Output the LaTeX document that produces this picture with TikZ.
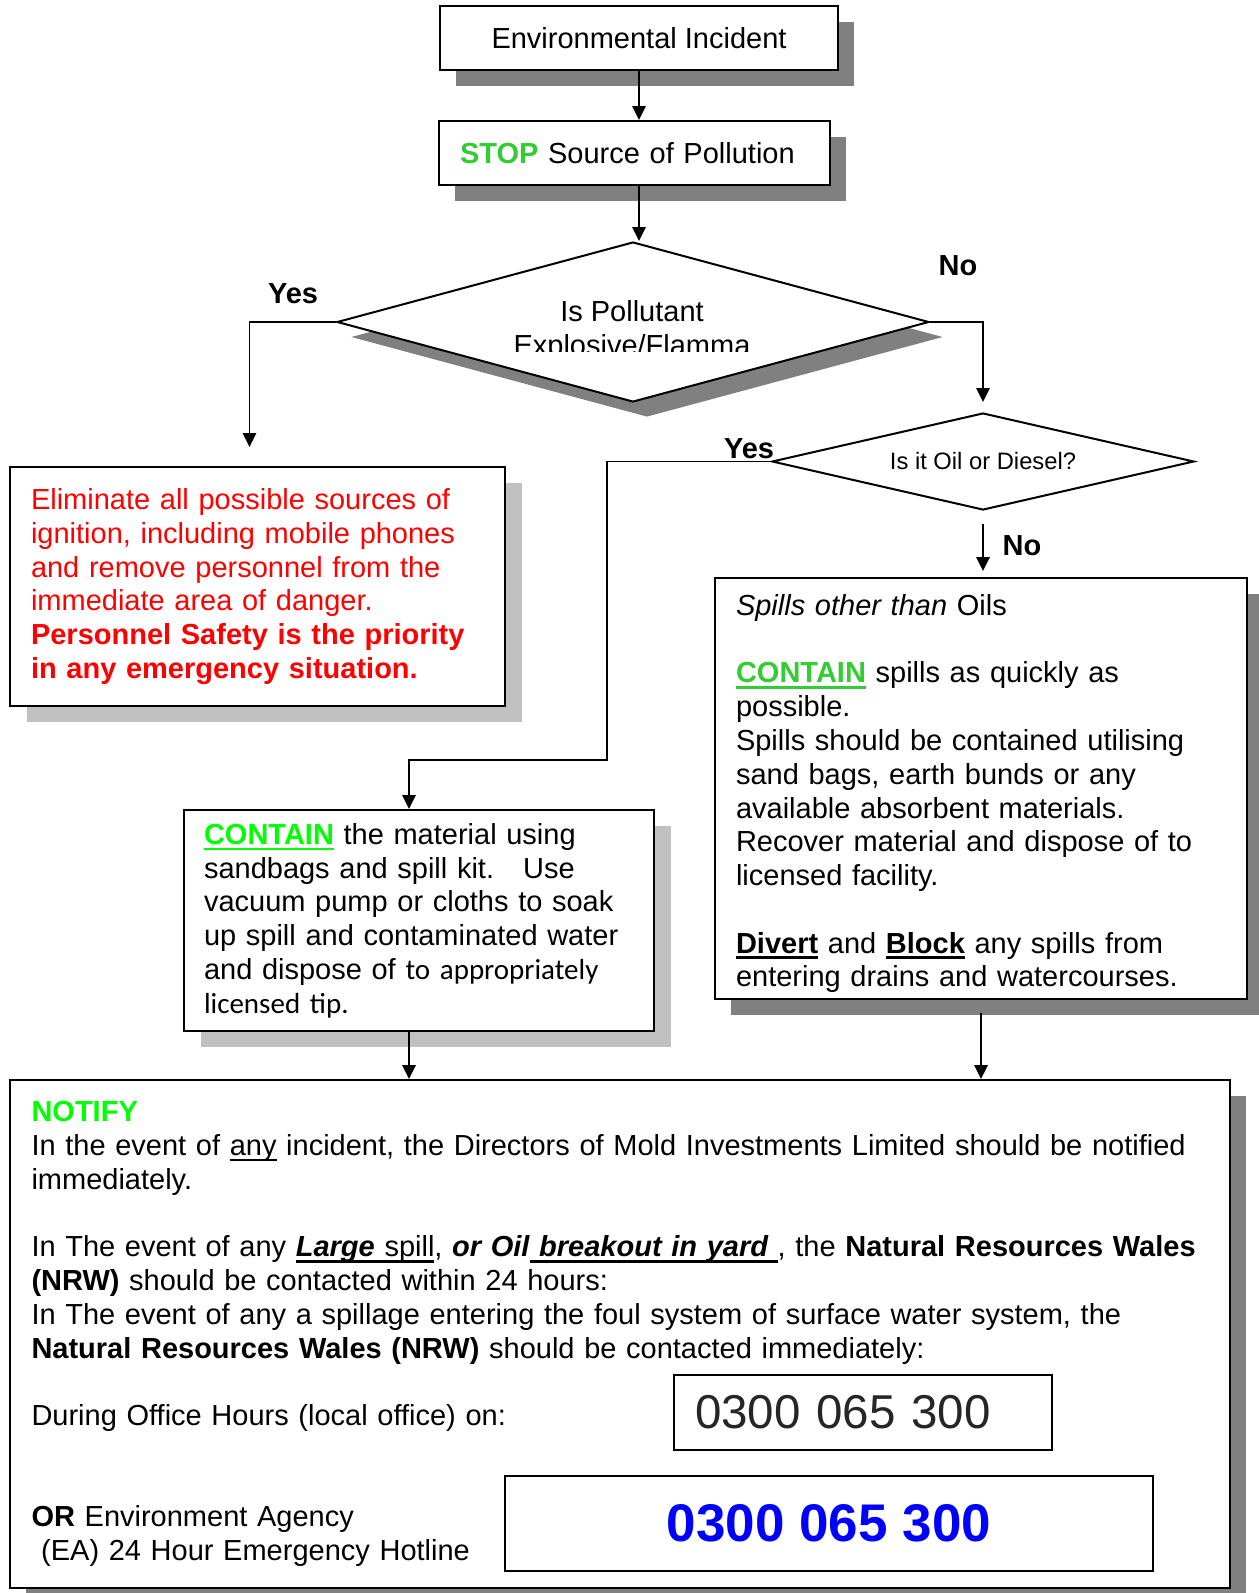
\documentclass[tikz,border=0pt]{standalone}
\usepackage{fontspec}
\setmainfont{Liberation Sans}
\newfontfamily\calibrifont{Carlito}
\usepackage{xcolor}
\usetikzlibrary{calc}
\usetikzlibrary{arrows.meta}
\usetikzlibrary{shapes.geometric}
\usetikzlibrary{shadows}

\definecolor{stopgreen}{RGB}{51,204,51}
\definecolor{limegreen}{RGB}{0,255,0}
\definecolor{alertred}{RGB}{255,0,0}
\definecolor{hotlineblue}{RGB}{0,0,255}
\definecolor{darkshade}{RGB}{128,128,128}
\definecolor{lightshade}{RGB}{192,192,192}
\definecolor{numbergrey}{RGB}{38,38,38}

\newcommand{\ulbar}[1]{\leavevmode\setbox0\hbox{#1}\rlap{\rule[-0.2em]{\wd0}{0.08em}}\box0\relax}

\begin{document}
\begin{tikzpicture}[x=0.4pt, y=-0.4pt]
\fontsize{11.6}{13.5}\selectfont

\tikzset{
    box/.style = {
    draw, thick, fill=white, inner sep=0pt
    },
    darkbox/.style = {
    box, general shadow={fill=darkshade, draw=none, shadow xshift=6.4pt, shadow yshift=-6.4pt}
    },
    lightbox/.style = {
    box, general shadow={fill=lightshade, draw=none, shadow xshift=6.8pt, shadow yshift=-6.4pt}
    }
}

\tikzstyle{textbox}=[anchor=north west, align=left, inner xsep=8.4pt, inner ysep=0pt]
\tikzstyle{answer}=[font=\bfseries]
\tikzstyle{arr}=[line width=0.7pt, -{Triangle[length=5.6pt, width=5.4pt]}]

\useasboundingbox (0,0) rectangle (1259,1593);

\node[darkbox, minimum width=159.2pt, minimum height=25.6pt, anchor=north west] (incident) at (439,5) {Environmental Incident};
\node[darkbox, align=left, text width=139.6pt, inner xsep=8.4pt, minimum height=25.6pt, anchor=north west] (stop) at (438,120) {{\bfseries\color{stopgreen}STOP} Source of Pollution};

\node[diamond, draw, thick, fill=white, inner sep=0pt, aspect=3.7, minimum width=236.8pt, minimum height=64pt,
      general shadow={fill=darkshade, draw=none, shadow xshift=5.6pt, shadow yshift=-6pt}] (pollutant) at (633,322) {};
\begin{scope}
\clip (337,242) rectangle (929,351);
\node[anchor=north, align=center, inner sep=0pt] (pollutantq) at (632,300) {Is Pollutant\\Explosive/Flamma};
\end{scope}

\node[diamond, draw, thick, fill=white, inner sep=0pt, aspect=4.35, minimum width=168.8pt, minimum height=38.8pt,
      font={\fontsize{9.5}{11}\selectfont}] (oil) at (983,461.5) {Is it Oil or Diesel?};

\node[answer] (yesflam) at (293,294) {Yes};
\node[answer] (noflam) at (958,266) {No};
\node[answer] (yesoil) at (749,449) {Yes};
\node[answer] (nooil) at (1022,546) {No};

\node[lightbox, textbox, text width=181.2pt, minimum height=95.6pt, text=alertred] (danger) at (9,466) {Eliminate all possible sources of\\
ignition, including mobile phones\\
and remove personnel from the\\
immediate area of danger.\\
\textbf{Personnel Safety is the priority}\\
\textbf{in any emergency situation.}};

\node[darkbox, textbox, text width=196pt, minimum height=168.4pt] (spills) at (714,577) {\rule{0pt}{12.5pt}\textit{Spills other than} Oils\\[\baselineskip]
{\bfseries\color{stopgreen}\ulbar{CONTAIN}} spills as quickly as\\
possible.\\
Spills should be contained utilising\\
sand bags, earth bunds or any\\
available absorbent materials.\\
Recover material and dispose of to\\
licensed facility.\\[\baselineskip]
\textbf{\ulbar{Divert}} and \textbf{\ulbar{Block}} any spills from\\
entering drains and watercourses.};

\node[lightbox, textbox, inner xsep=8pt, text width=172pt, minimum height=88.4pt] (contain) at (183,809) {{\bfseries\color{limegreen}\ulbar{CONTAIN}} the material using\\
sandbags and spill kit.\ \ \ Use\\
vacuum pump or cloths to soak\\
up spill and contaminated water\\
and dispose of {\calibrifont to appropriately}\\
{\calibrifont licensed tip.}};

\node[darkbox, textbox, inner xsep=8.6pt, text width=470.8pt, minimum height=203.2pt] (notify) at (9,1079) {{\bfseries\color{limegreen}NOTIFY}\\
In the event of \ulbar{any} incident, the Directors of Mold Investments Limited should be notified\\
immediately.\\[\baselineskip]
In The event of any \ulbar{\textbf{\textit{Large}} spill}, \textbf{\textit{or Oil\ulbar{ breakout in yard }}}, the \textbf{Natural Resources Wales}\\
\textbf{(NRW)} should be contacted within 24 hours:\\
In The event of any a spillage entering the foul system of surface water system, the\\
\textbf{Natural Resources Wales (NRW)} should be contacted immediately:\\[\baselineskip]
During Office Hours (local office) on:\\[2\baselineskip]
\textbf{OR} Environment Agency\\
\ (EA) 24 Hour Emergency Hotline};

\node[box, anchor=north west, minimum width=151.2pt, minimum height=30pt, text width=134.4pt, inner xsep=8.4pt,
      text=numbergrey, font={\fontsize{19}{22}\selectfont}] (office) at (673,1374) {0300 065 300};
\node[box, anchor=north west, minimum width=259.2pt, minimum height=38pt,
      text=hotlineblue, font={\fontsize{21.2}{24}\selectfont\bfseries}] (hotline) at (504,1475) {0300 065 300};

\draw[arr] (incident.south) -- (incident.south |- stop.north);
\draw[arr] (incident.south |- stop.south) -- (incident.south |- pollutant.north);
\draw[arr] (pollutant.west) -| ($(danger.north)+(-8,-19)$);
\draw[arr] (pollutant.east) -| ($(oil.north)+(0,-10)$);
\coordinate (oilbend) at (607,760);
\draw[arr] (oil.west) -| (oilbend) -| ($(contain.north)+(-10,0)$);
\draw[arr, shorten <=5.2pt, shorten >=2.4pt] (oil.south) -- (oil.south |- spills.north);
\draw[arr] ($(contain.south)+(-10,0)$) coordinate (containfoot) -- (containfoot |- notify.north);
\draw[arr, shorten <=5pt] (spills.south) -- (spills.south |- notify.north);

% \draw (notify.north) node[above] {NOTIFY};

\end{tikzpicture}
\end{document}
